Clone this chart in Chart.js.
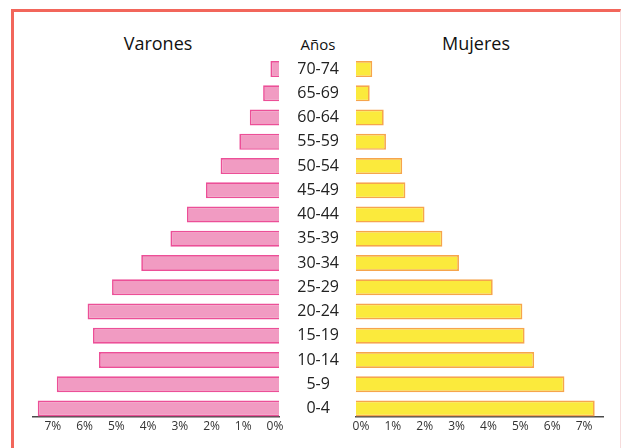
<!DOCTYPE html>
<html>
<head>
<meta charset="utf-8">
<script src="https://cdn.jsdelivr.net/npm/chart.js@4/dist/chart.umd.min.js"></script>
<style>
  html, body { margin: 0; padding: 0; background: #fff; }
  body { width: 622px; height: 448px; position: relative; overflow: hidden; font-family: "Open Sans", sans-serif; }
  .frame { position: absolute; left: 11px; top: 9px; width: 606px; height: 460px;
           border-left: 3px solid #f2665b; border-top: 3px solid #f2665b; border-right: 1px solid #f6dcdc; }
  .head { position: absolute; color: #111; transform: translate(-50%, -50%); white-space: nowrap; }
  canvas { position: absolute; top: 0; }
</style>
</head>
<body>
<div class="frame"></div>
<div class="head" style="left:158px; top:43px; font-size:18px;">Varones</div>
<div class="head" style="left:318px; top:44px; font-size:15px;">Años</div>
<div class="head" style="left:476px; top:43px; font-size:18px;">Mujeres</div>
<div style="position:absolute; left:0; top:0; width:290px; height:448px;"><canvas id="men"></canvas></div>
<div style="position:absolute; left:279px; top:0; width:343px; height:448px;"><canvas id="women"></canvas></div>
<script>
// Age groups, from youngest (bottom) to oldest (top)
const ageGroups = ['0-4', '5-9', '10-14', '15-19', '20-24', '25-29', '30-34',
                   '35-39', '40-44', '45-49', '50-54', '55-59', '60-64', '65-69', '70-74'];
// Share of the population in each age group, percent
const menPct   = [7.6, 7.0, 5.67, 5.86, 6.03, 5.26, 4.34, 3.42, 2.9, 2.3, 1.84, 1.25, 0.92, 0.5, 0.27];
const womenPct = [7.49, 6.54, 5.59, 5.29, 5.22, 4.29, 3.23, 2.71, 2.15, 1.55, 1.45, 0.94, 0.87, 0.43, 0.51];
// Percent ticks on the horizontal axes
const pctTicks = [0, 1, 2, 3, 4, 5, 6, 7];

const AXIS_MAX = 7.75;
const FONT = '"Open Sans", sans-serif';

function points(values) {
  return values.map((v, i) => ({ x: v, y: i }));
}

function xAxis(reverse, offset) {
  return {
    type: 'linear', min: 0, max: AXIS_MAX, reverse,
    grid: { display: false, drawTicks: false },
    border: { display: true, color: '#4a4a4a', width: 1.5 },
    afterBuildTicks: (scale) => { scale.ticks = pctTicks.map(v => ({ value: v })); },
    afterFit: (scale) => { scale.height = 31; },
    ticks: {
      font: { family: FONT, size: 12 }, color: '#333', padding: 2,
      labelOffset: offset, maxRotation: 0, autoSkip: false,
      callback: (v) => v + '%'
    }
  };
}

function yAxis(show) {
  const axis = {
    type: 'linear', min: -0.35, max: 14.5, offset: false,
    display: show,
    grid: { display: false, drawTicks: false },
    border: { display: false },
    afterBuildTicks: (scale) => { scale.ticks = ageGroups.map((_, i) => ({ value: i })); },
    ticks: {
      font: { family: FONT, size: 16 }, color: '#222', padding: 17,
      crossAlign: 'center', autoSkip: false,
      callback: (v) => ageGroups[v]
    }
  };
  if (show) axis.afterFit = (scale) => { scale.width = 77; };
  return axis;
}

function pyramidSide(id, values, fill, stroke, reverse, offset, showAges, pad) {
  return new Chart(document.getElementById(id), {
    type: 'bar',
    data: {
      datasets: [{
        data: points(values),
        backgroundColor: fill,
        borderColor: stroke,
        borderWidth: 1.7,
        barPercentage: 0.66,
        categoryPercentage: 1
      }]
    },
    options: {
      indexAxis: 'y',
      responsive: true,
      maintainAspectRatio: false,
      animation: false,
      layout: { padding: pad },
      plugins: { legend: { display: false }, tooltip: { enabled: false } },
      scales: { x: xAxis(reverse, offset), y: yAxis(showAges) }
    }
  });
}

pyramidSide('men', menPct, '#f19bc2', '#ec4f97', true, -4, false,
            { left: 33, right: 11, top: 57, bottom: 0 });
pyramidSide('women', womenPct, '#fbea3c', '#f6a54c', false, 5, true,
            { left: 0, right: 19, top: 57, bottom: 0 });
</script>
</body>
</html>
